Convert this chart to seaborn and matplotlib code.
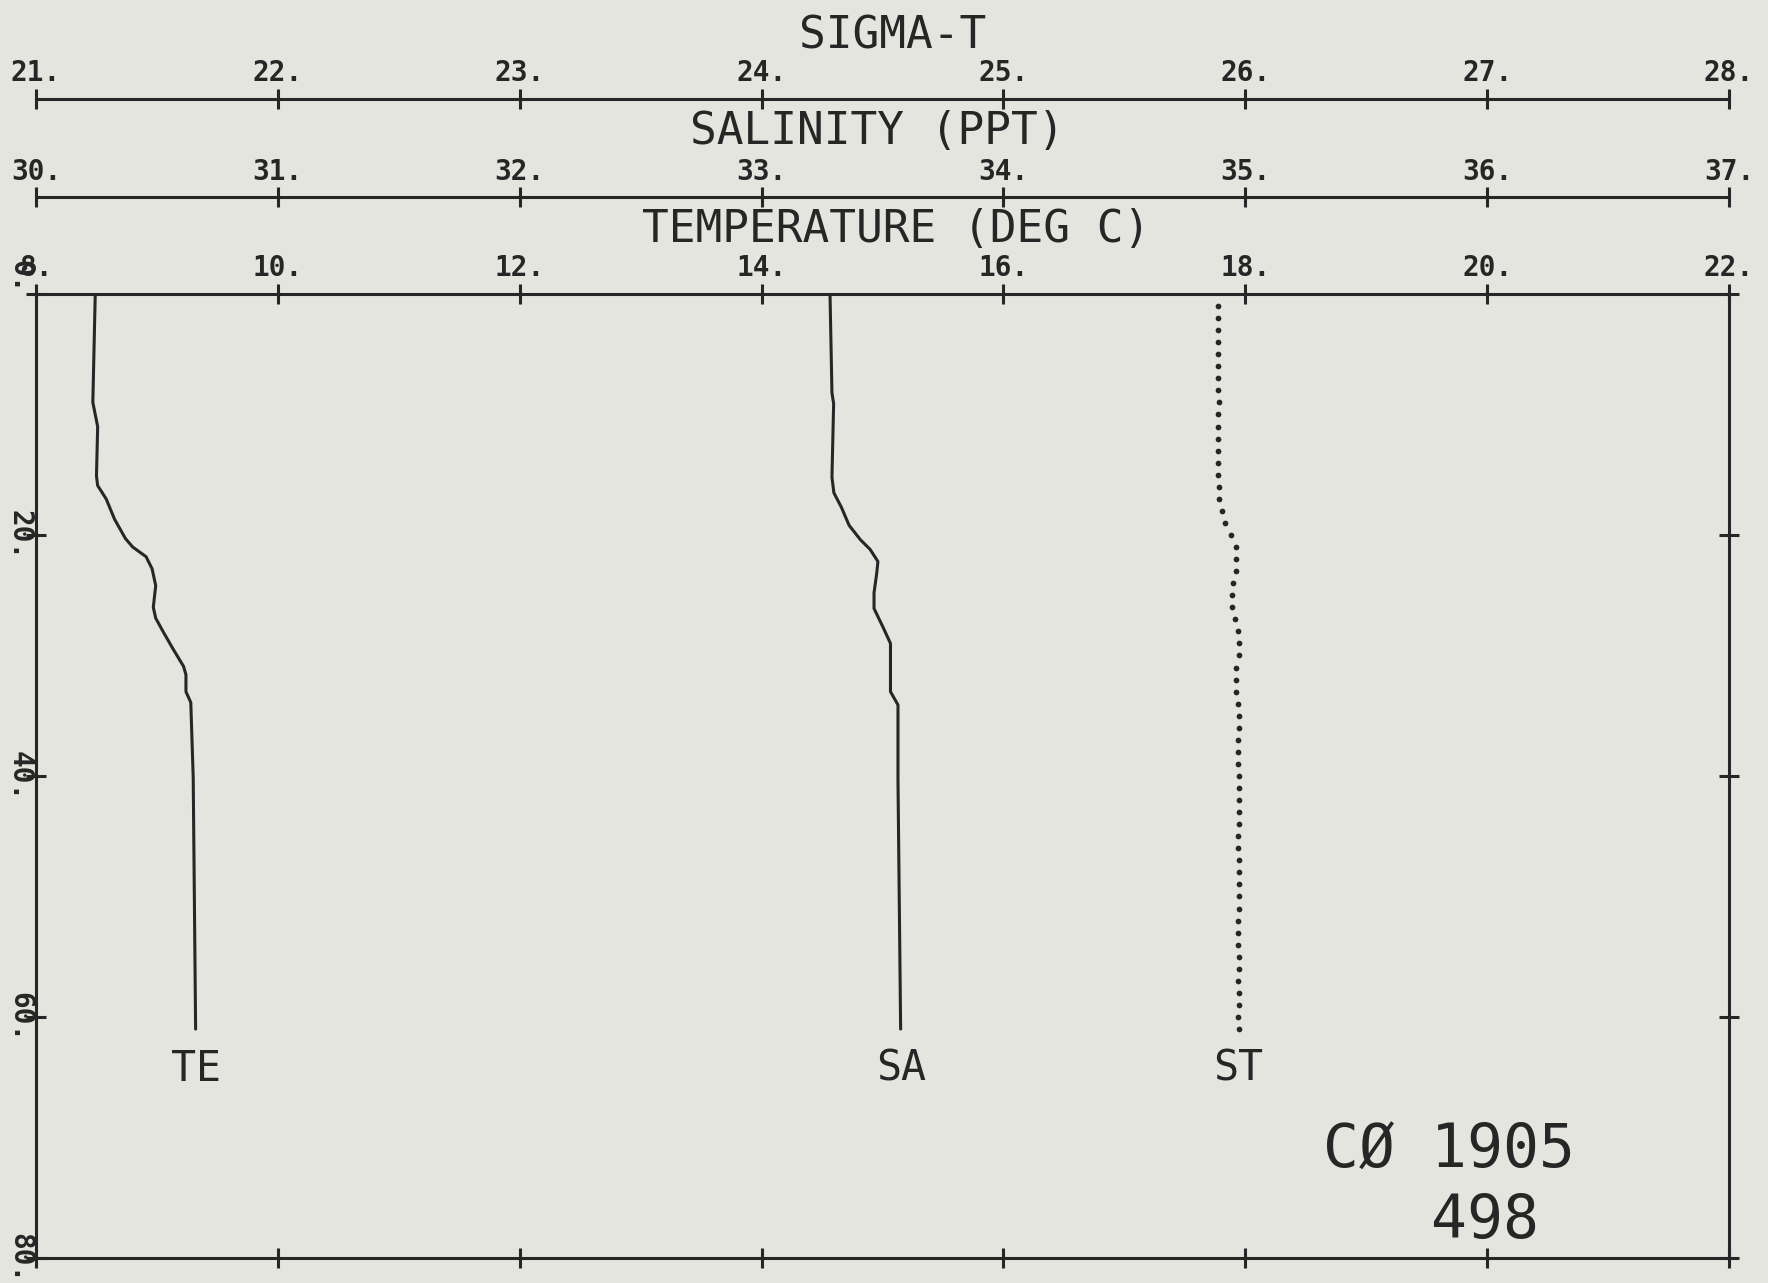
import numpy as np
import matplotlib
matplotlib.use("Agg")
import matplotlib.pyplot as plt
import seaborn as sns

# ---- profile data: station CØ 1905 / 498 ----
# temperature (deg C) against depth (m)
te_depth = [0, 9.0, 11.0, 15.1, 15.9, 17.0, 18.7, 20.3, 21.0, 21.8, 22.8,
            24.2, 26.0, 26.9, 28.0, 29.4, 30.9, 31.6, 33.0, 33.9, 40.1, 61.0]
te_value = [8.49, 8.47, 8.51, 8.50, 8.51, 8.58, 8.65, 8.74, 8.80, 8.91, 8.96,
            8.99, 8.97, 8.99, 9.05, 9.13, 9.22, 9.24, 9.24, 9.28, 9.30, 9.32]

# salinity (ppt) against depth (m)
sa_depth = [0, 8.2, 9.1, 15.2, 16.5, 17.7, 19.2, 20.4, 21.2, 22.2, 23.2,
            24.8, 26.1, 27.6, 29.0, 33.0, 34.1, 40.3, 61.0]
sa_value = [33.283, 33.291, 33.298, 33.291, 33.299, 33.330, 33.362, 33.409,
            33.449, 33.481, 33.476, 33.465, 33.465, 33.501, 33.533, 33.533,
            33.564, 33.564, 33.575]

# sigma-t sampled every metre from 1 m to 61 m
st_depth = list(range(1, 62))
st_value = [25.889, 25.889, 25.889, 25.889, 25.889, 25.889, 25.889, 25.886,
            25.892, 25.889, 25.889, 25.889, 25.889, 25.889, 25.889, 25.892,
            25.892, 25.905, 25.917, 25.941, 25.960, 25.960, 25.960, 25.949,
            25.944, 25.944, 25.957, 25.968, 25.976, 25.972, 25.963, 25.960,
            25.960, 25.968, 25.972, 25.972, 25.970, 25.970, 25.970, 25.972,
            25.974, 25.974, 25.974, 25.972, 25.969, 25.969, 25.972, 25.972,
            25.972, 25.972, 25.972, 25.970, 25.969, 25.969, 25.974, 25.972,
            25.969, 25.972, 25.972, 25.970, 25.972]

# axis ticks
temp_ticks = [8, 10, 12, 14, 16, 18, 20, 22]
sal_ticks = [30, 31, 32, 33, 34, 35, 36, 37]
sig_ticks = [21, 22, 23, 24, 25, 26, 27, 28]
depth_ticks = [0, 20, 40, 60, 80]

# ---- style ----
sns.set_theme(style="white")
plt.rcParams["font.family"] = ["DejaVu Sans Mono", "DejaVu Sans"]
INK = "#262626"
PAPER = "#e4e5df"
LW = 2.2
TICK_KW = dict(direction="inout", length=15, width=LW, color=INK,
               labelcolor=INK, labelsize=20)

fig = plt.figure(figsize=(17.68, 12.83), dpi=100, facecolor=PAPER)
ax = fig.add_axes([0.02036, 0.01949, 0.95758, 0.75136])
ax.set_facecolor(PAPER)

ax_sal = ax.twiny()
ax_sig = ax.twiny()

# ---- curves ----
sns.lineplot(x=te_value, y=te_depth, sort=False, estimator=None, ax=ax,
             color=INK, linewidth=LW)
sns.lineplot(x=sa_value, y=sa_depth, sort=False, estimator=None, ax=ax_sal,
             color=INK, linewidth=LW)
sns.scatterplot(x=st_value, y=st_depth, ax=ax_sig, s=17, color=INK,
                linewidth=0)

# ---- main axes: temperature / depth ----
ax.set_xlim(temp_ticks[0], temp_ticks[-1])
ax.set_ylim(depth_ticks[-1], depth_ticks[0])
for sp in ax.spines.values():
    sp.set_visible(True)
    sp.set_color(INK)
    sp.set_linewidth(LW)
ax.set_xticks(temp_ticks, labels=[f"{t:g}." for t in temp_ticks],
              fontweight="bold")
ax.tick_params(axis="x", top=True, bottom=True, labeltop=True,
               labelbottom=False, pad=1, **TICK_KW)
ax.set_yticks(depth_ticks, labels=[f"{d:g}." for d in depth_ticks],
              rotation=-90, va="center", fontweight="bold")
ax.tick_params(axis="y", left=True, right=True, labelleft=True,
               labelright=False, pad=-6, **TICK_KW)
ax.get_yticklabels()[0].set_va("bottom")
ax.set_xlabel("")
ax.set_ylabel("")
ax.grid(False)

# ---- stacked upper scales: salinity and sigma-t ----
for twin, ticks, loc in ((ax_sal, sal_ticks, 1.1002),
                         (ax_sig, sig_ticks, 1.2023)):
    twin.set_xlim(ticks[0], ticks[-1])
    for name, sp in twin.spines.items():
        sp.set_visible(name == "top")
    twin.spines["top"].set_position(("axes", loc))
    twin.spines["top"].set_color(INK)
    twin.spines["top"].set_linewidth(LW)
    twin.set_xticks(ticks, labels=[f"{t:g}." for t in ticks],
                    fontweight="bold")
    twin.tick_params(axis="x", top=True, bottom=False, labeltop=True,
                     labelbottom=False, pad=1, **TICK_KW)
    twin.set_xlabel("")
    twin.set_ylabel("")
    twin.grid(False)

# ---- scale titles ----
title_kw = dict(transform=ax.transAxes, ha="center", va="baseline",
                fontsize=32, color=INK, clip_on=False)
ax.text(0.506, 1.2550, "SIGMA-T", **title_kw)
ax.text(0.497, 1.1556, "SALINITY (PPT)", **title_kw)
ax.text(0.508, 1.0542, "TEMPERATURE (DEG C)", **title_kw)

# ---- curve names under each profile ----
name_kw = dict(ha="center", va="baseline", fontsize=30, color=INK)
ax.text(te_value[-1], 65.3, "TE", **name_kw)
ax_sal.text(sa_value[-1], 65.3, "SA", **name_kw)
ax_sig.text(st_value[-1], 65.3, "ST", **name_kw)

# ---- station identifier ----
ax.text(18.64, 72.5, "CØ 1905", ha="left", va="baseline", fontsize=43,
        color=INK)
ax.text(18.64, 78.3, "   498", ha="left", va="baseline", fontsize=43,
        color=INK)

fig.savefig("out.png", dpi=100, facecolor=PAPER)
